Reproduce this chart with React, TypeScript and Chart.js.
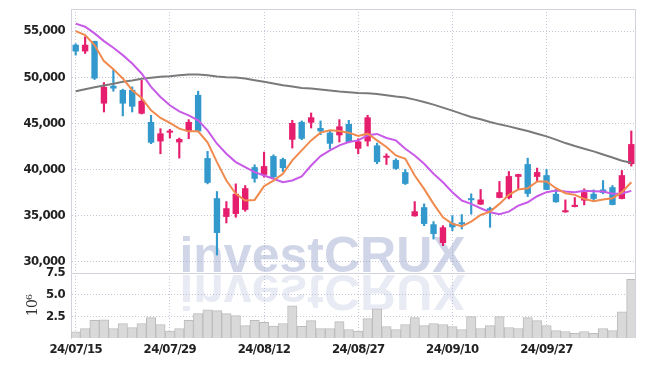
import React, { useEffect, useRef } from 'react';
import { Chart, registerables } from 'chart.js';

Chart.register(...registerables);

const dates = [
  '24/07/15', '24/07/16', '24/07/17', '24/07/18', '24/07/19', '24/07/22', '24/07/23', '24/07/24', '24/07/25', '24/07/26',
  '24/07/29', '24/07/30', '24/07/31', '24/08/01', '24/08/02', '24/08/05', '24/08/06', '24/08/07', '24/08/08', '24/08/09',
  '24/08/12', '24/08/13', '24/08/14', '24/08/16', '24/08/19', '24/08/20', '24/08/21', '24/08/22', '24/08/23', '24/08/26',
  '24/08/27', '24/08/28', '24/08/29', '24/08/30', '24/09/02', '24/09/03', '24/09/04', '24/09/05', '24/09/06', '24/09/09',
  '24/09/10', '24/09/11', '24/09/12', '24/09/13', '24/09/19', '24/09/20', '24/09/23', '24/09/24', '24/09/25', '24/09/26',
  '24/09/27', '24/09/30', '24/10/02', '24/10/04', '24/10/07', '24/10/08', '24/10/10', '24/10/11', '24/10/14', '24/10/15',
];

const opens = [
  53515, 52790, 53910, 47140, 49060, 48620, 48620, 46050, 45150, 43040,
  43990, 42935, 44130, 48080, 41230, 36885, 34860, 35180, 35620, 40250,
  39420, 41450, 41120, 43225, 45150, 45070, 44490, 43990, 43700, 44930,
  42250, 43040, 42610, 41270, 41020, 39710, 34930, 35910, 34060, 32030,
  34170, 34200, 36775, 36200, 35800, 36920, 36920, 39200, 40580, 39200,
  39380, 37360, 35360, 35940, 36630, 37360, 37830, 38080, 36810, 40580,
];
const highs = [
  53620, 54380, 53910, 49420, 50760, 48700, 48950, 49670, 45870, 44420,
  44350, 43410, 45400, 48480, 41960, 37610, 36520, 38440, 38260, 40510,
  41880, 41590, 41230, 45330, 45260, 46120, 45260, 44130, 45400, 45330,
  43330, 45870, 42860, 41700, 41160, 40000, 36520, 36270, 34350, 33910,
  35000, 35110, 37360, 37830, 35910, 38700, 39780, 39490, 41230, 40150,
  40000, 37830, 36700, 36960, 37900, 37790, 38800, 38260, 39890, 44170,
];
const lows = [
  52390, 52570, 49750, 46230, 48480, 45800, 46230, 46010, 42790, 41700,
  43410, 41230, 43330, 44060, 38440, 30725, 34200, 34820, 35470, 38620,
  39170, 39060, 39780, 42320, 43225, 44490, 43770, 42250, 42970, 42900,
  41700, 42540, 40620, 40540, 40000, 38370, 34930, 33910, 32460, 31740,
  33370, 33550, 35160, 36200, 33730, 36920, 36810, 37830, 37070, 38700,
  37790, 36450, 35360, 35940, 36160, 36520, 37360, 36160, 36810, 40360,
];
const closes = [
  52790, 53515, 49855, 48950, 48770, 47140, 46810, 47430, 42900, 43910,
  44130, 43300, 45150, 44130, 38550, 33120, 35800, 37360, 37970, 38990,
  40360, 39170, 40150, 45040, 43330, 45650, 44130, 42790, 44670, 42970,
  43040, 45650, 40800, 41450, 40070, 38440, 35470, 34100, 33010, 33730,
  33730, 34060, 36670, 36740, 35580, 37540, 39280, 39490, 37360, 39710,
  37790, 36450, 35540, 36160, 37540, 36810, 37470, 36160, 39380, 42750,
];

// volume in millions of shares
const volumes = [
  0.72, 1.1, 2.04, 2.1, 1.1, 1.67, 1.21, 1.67, 2.35, 1.56,
  0.79, 1.1, 2.04, 2.81, 3.26, 3.15, 2.81, 2.58, 1.43, 2.04,
  1.81, 1.37, 1.67, 3.72, 1.34, 2.0, 1.1, 1.1, 1.89, 0.98,
  0.79, 2.23, 3.37, 1.33, 0.98, 1.56, 2.35, 1.43, 1.67, 1.56,
  1.33, 0.98, 2.46, 1.1, 1.43, 2.46, 1.21, 1.1, 2.35, 2.0,
  1.43, 0.87, 0.75, 0.53, 0.75, 0.53, 1.1, 0.87, 3.03, 6.78,
];

const maShort = [
  55000, 54570, 53480, 51740, 50870, 49860, 48590, 47750, 46410, 45580,
  45040, 44420, 44130, 44130, 42950, 40800, 38800, 37360, 36630, 36700,
  38190, 38800, 39530, 40980, 42070, 43150, 43990, 44240, 44170, 43990,
  43620, 43880, 43150, 42430, 41520, 41160, 39350, 37900, 36270, 34820,
  34100, 33840, 34350, 35070, 35430, 36270, 37250, 37830, 37970, 38700,
  38700, 37970, 37430, 37250, 36810, 36560, 36740, 36880, 37540, 38620,
];
const maMid = [
  55800, 55470, 54750, 53910, 53190, 52390, 51490, 50400, 48950, 47860,
  46960, 46300, 45870, 45330, 44240, 42790, 41700, 40800, 40250, 39710,
  39350, 38990, 38620, 38800, 39240, 40430, 41450, 42070, 42610, 42970,
  43150, 43700, 43850, 43410, 43150, 42250, 41520, 40620, 39530, 38620,
  37540, 36630, 36270, 35800, 35360, 35150, 35430, 36090, 36450, 37100,
  37540, 37720, 37610, 37540, 37680, 37650, 37610, 37360, 37400, 37680,
];
const maLong = [
  48480, 48700, 48920, 49100, 49280, 49500, 49640, 49820, 49930, 50040,
  50110, 50220, 50290, 50290, 50220, 50070, 50000, 49960, 49860, 49670,
  49500, 49310, 49130, 48990, 48840, 48770, 48660, 48550, 48440, 48370,
  48300, 48260, 48190, 48040, 47900, 47790, 47570, 47320, 47030, 46700,
  46380, 46020, 45690, 45440, 45150, 44890, 44670, 44420, 44170, 43880,
  43590, 43230, 42860, 42540, 42250, 41960, 41630, 41300, 40940, 40730,
];

const priceTicks = [30000, 35000, 40000, 45000, 50000, 55000];
const volumeTicks = [2.5, 5.0, 7.5];
const priceMin = 28780;
const priceMax = 57390;
const volumeMax = 7.5;
const labelEvery = 10;

const UP = '#e61e6e';
const DOWN = '#3399cc';
const GRID = '#c4c7d8';
const FRAME = '#d2d3da';
const TICK_FONT = "'DejaVu Sans Condensed', 'Liberation Sans Narrow', sans-serif";

const noPad = (s: any) => {
  s.paddingTop = 0;
  s.paddingBottom = 0;
  s.paddingLeft = 0;
  s.paddingRight = 0;
};

const watermark = {
  id: 'watermark',
  beforeDraw(chart: any) {
    (chart.ctx as any).letterSpacing = '-0.6px';
  },
  beforeDatasetsDraw(chart: any) {
    const ctx = chart.ctx as CanvasRenderingContext2D;
    const y1 = chart.scales.y1;
    const cx = chart.width / 2;
    const base = y1.top - 1;
    ctx.save();
    (ctx as any).letterSpacing = '0px';
    ctx.font = "bold 50px 'Liberation Sans', Arial, sans-serif";
    ctx.textAlign = 'center';
    ctx.textBaseline = 'alphabetic';
    ctx.fillStyle = 'rgba(150,162,205,0.45)';
    ctx.fillText('investCRUX', cx, base);
    ctx.translate(0, base * 2 + 3);
    ctx.scale(1, -1);
    ctx.fillStyle = 'rgba(150,162,205,0.22)';
    ctx.fillText('investCRUX', cx, base);
    ctx.restore();
  },
  afterDraw(chart: any) {
    const ctx = chart.ctx as CanvasRenderingContext2D;
    const a = chart.chartArea;
    const y1 = chart.scales.y1;
    ctx.save();
    ctx.strokeStyle = FRAME;
    ctx.lineWidth = 1;
    ctx.beginPath();
    ctx.moveTo(a.left, a.top + 0.5);
    ctx.lineTo(a.right - 0.5, a.top + 0.5);
    ctx.lineTo(a.right - 0.5, a.bottom);
    ctx.moveTo(a.left, Math.round(y1.top) + 0.5);
    ctx.lineTo(a.right, Math.round(y1.top) + 0.5);
    ctx.stroke();
    ctx.restore();
    (ctx as any).letterSpacing = '0px';
  },
};

export default function App() {
  const ref = useRef<HTMLCanvasElement | null>(null);

  useEffect(() => {
    if (!ref.current) return;
    const colors = closes.map((c, i) => (c >= opens[i] ? UP : DOWN));
    const tickFont = { family: TICK_FONT, size: 13, weight: 'bold' };
    const chart = new Chart(ref.current, {
      type: 'bar',
      data: {
        labels: dates,
        datasets: [
          {
            type: 'line', label: 'MA5', data: maShort, borderColor: '#f08a4e', borderWidth: 2,
            pointRadius: 0, tension: 0, yAxisID: 'y', order: 0,
          } as any,
          {
            type: 'line', label: 'MA20', data: maMid, borderColor: '#c85ae8', borderWidth: 2,
            pointRadius: 0, tension: 0, yAxisID: 'y', order: 0,
          } as any,
          {
            type: 'line', label: 'MA60', data: maLong, borderColor: '#7a7a7a', borderWidth: 2,
            pointRadius: 0, tension: 0, yAxisID: 'y', order: 0,
          } as any,
          {
            type: 'bar', label: 'body', data: opens.map((o, i) => [o, closes[i]]),
            backgroundColor: colors, barPercentage: 0.68, categoryPercentage: 1, grouped: false,
            minBarLength: 2, yAxisID: 'y', order: 1,
          } as any,
          {
            type: 'bar', label: 'wick', data: lows.map((l, i) => [l, highs[i]]),
            backgroundColor: colors, barThickness: 1.5, grouped: false, yAxisID: 'y', order: 2,
          } as any,
          {
            type: 'bar', label: 'volume', data: volumes, backgroundColor: '#d9d9d9',
            borderColor: '#bcbcbc', borderWidth: 1, barPercentage: 1, categoryPercentage: 1,
            grouped: false, yAxisID: 'y1', order: 3,
          } as any,
        ],
      },
      options: {
        animation: false,
        responsive: false,
        maintainAspectRatio: false,
        layout: { padding: { top: 1, right: 1, left: 0, bottom: 0 } },
        plugins: { legend: { display: false }, tooltip: { enabled: false } },
        scales: {
          x: {
            type: 'category',
            offset: true,
            afterBuildTicks: (s: any) => {
              s.ticks = s.ticks.filter((t: any) => t.value % labelEvery === 0);
            },
            afterFit: (s: any) => { s.height = 20; noPad(s); },
            grid: { offset: false, color: GRID, drawTicks: false, lineWidth: 1 },
            border: { display: false, dash: [1, 2] },
            ticks: { autoSkip: false, maxRotation: 0, padding: 4, color: '#222', font: tickFont },
          },
          y1: {
            type: 'linear',
            position: 'left',
            stack: 'panels',
            stackWeight: 65,
            min: 0,
            max: volumeMax,
            afterBuildTicks: (s: any) => { s.ticks = volumeTicks.map((v) => ({ value: v })); },
            afterFit: (s: any) => { s.width = 63; noPad(s); },
            grid: { color: GRID, drawTicks: false },
            border: { display: true, color: FRAME, dash: [1, 2] },
            title: {
              display: true, text: '10⁶', color: '#333',
              font: { family: "'DejaVu Serif', serif", size: 14 },
              padding: { top: 17, bottom: 0 },
            },
            ticks: {
              autoSkip: false, padding: 6, color: '#222', font: tickFont,
              callback: (v: any) => Number(v).toFixed(1),
            },
          },
          y: {
            type: 'linear',
            position: 'left',
            stack: 'panels',
            stackWeight: 264,
            min: priceMin,
            max: priceMax,
            afterBuildTicks: (s: any) => { s.ticks = priceTicks.map((v) => ({ value: v })); },
            afterFit: (s: any) => { s.width = 63; noPad(s); },
            grid: { color: GRID, drawTicks: false },
            border: { display: true, color: FRAME, dash: [1, 2] },
            ticks: {
              autoSkip: false, padding: 6, color: '#222', font: tickFont,
              callback: (v: any) => Number(v).toLocaleString('en-US'),
            },
          },
        },
      } as any,
      plugins: [watermark],
    });
    return () => chart.destroy();
  }, []);

  return (
    <div style={{ width: 629, height: 350 }}>
      <canvas ref={ref} width={629} height={350} />
    </div>
  );
}
